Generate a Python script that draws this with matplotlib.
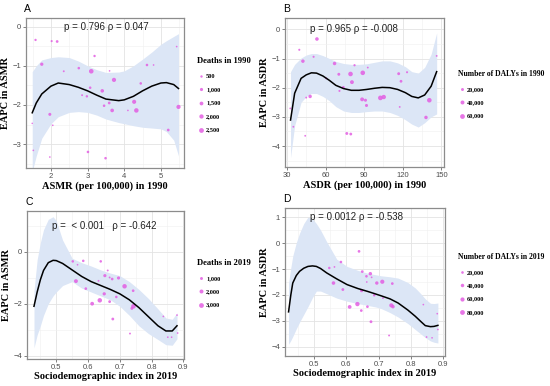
import numpy as np
import matplotlib
matplotlib.use("Agg")
from matplotlib import pyplot as plt
from matplotlib.ticker import MultipleLocator

# panel A: ASMR 1990 vs EAPC
a_x = [1.58, 2.02, 2.17, 1.75, 2.35, 2.76, 3.10, 3.19, 3.60, 3.72, 4.62, 4.80, 5.43, 4.45, 3.07, 3.40, 2.85,
       2.98, 3.59, 3.45, 3.67, 4.27, 4.33, 4.10, 5.48, 1.97, 2.05, 1.49, 1.52, 1.97, 3.01, 3.49, 5.20]
a_y = [-0.34, -0.37, -0.38, -0.96, -1.14, -1.06, -1.14, -0.75, -1.13, -1.36, -0.98, -0.98, -0.51, -1.45, -1.56,
       -1.64, -1.75, -1.78, -1.95, -2.02, -2.14, -1.92, -2.14, -2.14, -2.05, -2.24, -2.52, -2.47, -3.16, -3.33,
       -3.20, -3.36, -2.64]
a_n = [450, 350, 700, 1100, 250, 600, 2300, 500, 150, 1900, 600, 150, 150, 600, 600, 1300, 250,
       500, 700, 600, 1400, 1800, 2200, 150, 1900, 900, 150, 100, 150, 150, 600, 600, 700]
a_cx = [1.49, 1.6, 1.75, 2.0, 2.2, 2.5, 2.75, 3.0, 3.25, 3.5, 3.85, 4.0, 4.25, 4.5, 4.75, 5.0, 5.15, 5.35, 5.48]
a_cy = [-2.2, -1.95, -1.72, -1.52, -1.44, -1.48, -1.55, -1.64, -1.75, -1.85, -1.89, -1.87, -1.78, -1.64, -1.52,
        -1.44, -1.43, -1.48, -1.58]
a_hi = [-1.15, -1.0, -0.85, -0.79, -0.77, -0.79, -0.88, -1.0, -1.1, -1.17, -1.16, -1.13, -1.0, -0.83, -0.65,
        -0.45, -0.36, -0.25, -0.18]
a_lo = [-3.7, -3.3, -2.85, -2.48, -2.3, -2.19, -2.17, -2.19, -2.26, -2.36, -2.45, -2.48, -2.53, -2.57, -2.59,
        -2.61, -2.68, -2.9, -3.3]

# panel B: ASDR 1990 vs EAPC
b_x = [53.3, 39.6, 42.4, 50.7, 67.0, 82.5, 92.8, 70.3, 79.4, 88.9, 116.8, 123.3, 146.3, 60.5, 80.5, 118.6, 73.8,
       70.8, 48.0, 45.0, 88.4, 91.0, 91.8, 102.6, 105.2, 140.6, 117.6, 138.0, 32.6, 35.0, 44.2, 76.5, 79.6]
b_y = [-0.33, -0.70, -1.09, -0.94, -1.17, -1.23, -1.31, -1.54, -1.53, -1.49, -1.52, -1.47, -0.91, -1.68, -1.81,
       -1.78, -1.99, -2.11, -2.30, -2.34, -2.40, -2.43, -2.61, -2.35, -2.32, -2.43, -2.66, -3.02, -2.71, -3.34,
       -3.65, -3.57, -3.59]
b_n = [32000, 8000, 30000, 8000, 30000, 10000, 5000, 20000, 55000, 55000, 20000, 8000, 5000, 8000, 38000, 18000,
       18000, 8000, 30000, 6000, 38000, 22000, 22000, 58000, 50000, 55000, 5000, 30000, 5000, 5000, 5000, 20000,
       18000]
b_cx = [32.8, 36, 41, 45, 49, 53, 58, 63, 68, 74, 80, 86, 92, 98, 104, 110, 116, 122, 127, 132, 137, 142, 146.3]
b_cy = [-3.11, -2.19, -1.68, -1.56, -1.49, -1.50, -1.6, -1.75, -1.92, -2.03, -2.09, -2.09, -2.06, -2.02, -1.99,
        -2.0, -2.06, -2.17, -2.3, -2.35, -2.25, -1.95, -1.45]
b_hi = [-1.45, -1.2, -0.98, -0.88, -0.83, -0.83, -0.9, -1.0, -1.1, -1.17, -1.2, -1.2, -1.18, -1.13, -1.08, -1.08,
        -1.15, -1.28, -1.45, -1.5, -1.3, -0.85, -0.12]
b_lo = [-4.4, -3.3, -2.5, -2.3, -2.2, -2.2, -2.3, -2.45, -2.65, -2.8, -2.85, -2.85, -2.82, -2.8, -2.8, -2.85,
        -2.95, -3.1, -3.25, -3.35, -3.2, -3.0, -2.9]

# panel C: SDI 2019 vs EAPC in ASMR
c_x = [0.552, 0.567, 0.585, 0.640, 0.662, 0.653, 0.668, 0.676, 0.696, 0.633, 0.562, 0.715, 0.593, 0.742, 0.651,
       0.689, 0.613, 0.637, 0.668, 0.743, 0.678, 0.732, 0.837, 0.851, 0.863, 0.880, 0.882, 0.738]
c_y = [-0.37, -0.50, -0.35, -0.37, -0.72, -0.92, -0.99, -1.05, -1.01, -1.12, -1.13, -1.33, -1.42, -1.50, -1.62,
       -1.74, -2.00, -1.87, -1.92, -2.10, -2.59, -3.15, -2.49, -3.29, -3.29, -2.44, -3.13, -2.18]
c_n = [700, 200, 700, 700, 300, 1200, 300, 800, 1200, 300, 1900, 2600, 800, 800, 1300,
       700, 1800, 2600, 900, 2800, 900, 300, 200, 200, 200, 200, 200, 1000]
c_cx = [0.43, 0.44, 0.45, 0.46, 0.475, 0.49, 0.50, 0.52, 0.55, 0.58, 0.61, 0.64, 0.67, 0.70, 0.73, 0.76, 0.79,
        0.82, 0.845, 0.865, 0.88]
c_cy = [-2.1, -1.55, -1.08, -0.72, -0.42, -0.33, -0.34, -0.45, -0.7, -0.95, -1.15, -1.3, -1.45, -1.62, -1.85,
        -2.15, -2.5, -2.85, -3.05, -3.05, -2.85]
c_hi = [-1.5, -0.3, 0.35, 0.85, 1.25, 1.35, 1.2, 0.45, -0.25, -0.42, -0.55, -0.7, -0.82, -0.92, -1.15, -1.45,
        -1.8, -2.2, -2.55, -2.6, -2.35]
c_lo = [-3.7, -3.2, -2.85, -2.45, -2.0, -1.7, -1.55, -1.3, -1.15, -1.4, -1.55, -1.7, -1.85, -2.1, -2.45, -2.85,
        -3.15, -3.38, -3.58, -3.6, -3.35]

# panel D: SDI 2019 vs EAPC in ASDR
d_x = [0.639, 0.583, 0.547, 0.563, 0.649, 0.674, 0.662, 0.678, 0.560, 0.694, 0.711, 0.742, 0.663, 0.589, 0.647,
       0.686, 0.713, 0.610, 0.634, 0.665, 0.646, 0.676, 0.739, 0.744, 0.732, 0.838, 0.848, 0.865, 0.881, 0.883]
d_y = [-0.32, -0.73, -0.96, -0.92, -1.10, -1.18, -1.28, -1.32, -1.54, -1.54, -1.49, -1.56, -1.50, -1.79, -1.83,
       -2.01, -2.12, -2.46, -2.35, -2.45, -2.60, -3.03, -2.40, -2.45, -3.56, -2.37, -3.62, -3.65, -2.72, -3.33]
d_n = [22000, 20000, 18000, 6000, 22000, 40000, 20000, 6000, 42000, 38000, 60000, 22000, 5000, 25000, 35000,
       18000, 6000, 48000, 65000, 22000, 22000, 25000, 60000, 40000, 8000, 5000, 6000, 5000, 5000, 5000]
d_cx = [0.421, 0.428, 0.434, 0.445, 0.455, 0.468, 0.481, 0.495, 0.507, 0.52, 0.539, 0.57, 0.602, 0.635, 0.665,
        0.69, 0.707, 0.735, 0.76, 0.79, 0.813, 0.83, 0.844, 0.86, 0.871, 0.883]
d_cy = [-2.65, -2.0, -1.54, -1.25, -1.09, -0.97, -0.9, -0.88, -0.9, -0.98, -1.15, -1.38, -1.6, -1.75, -1.86,
        -1.96, -2.03, -2.15, -2.31, -2.58, -2.82, -3.02, -3.18, -3.22, -3.21, -3.17]
d_hi = [-1.54, -0.95, -0.5, 0.02, 0.38, 0.75, 1.0, 0.93, 0.75, 0.5, 0.05, -0.62, -0.9, -1.05, -1.16, -1.22,
        -1.26, -1.3, -1.35, -1.52, -1.73, -1.95, -2.15, -2.32, -2.33, -2.31]
d_lo = [-3.9, -3.75, -3.6, -3.3, -3.05, -2.75, -2.45, -2.1, -1.85, -1.85, -1.95, -2.12, -2.24, -2.33, -2.4, -2.46,
        -2.52, -2.68, -2.85, -3.1, -3.33, -3.5, -3.64, -3.77, -3.82, -3.85]

a_leg = [500, 1000, 1500, 2000, 2500]
b_leg = [20000, 40000, 60000]
c_leg = [1000, 2000, 3000]
d_leg = [20000, 40000, 60000, 80000]

PT = "#e35ee2"
BAND = "#dce6f6"
SERIF = "Liberation Serif"
SANS = "Liberation Sans"
W, H = 550, 386


def size(v, vmax):
    return 0.8 + 11.0 * np.asarray(v, dtype=float) / vmax


def panel(rect, x, y, n, cx, cy, lo, hi, xlim, ylim, xmaj, ymaj, xlab, ylab, note, note_xy, leg, leg_title,
          leg_pos, title_size, letter):
    l, t, r, b = rect
    ax = fig.add_axes([l / W, 1 - b / H, (r - l) / W, (b - t) / H])
    ax.set_xlim(*xlim)
    ax.set_ylim(*ylim)
    ax.xaxis.set_major_locator(MultipleLocator(xmaj))
    ax.xaxis.set_minor_locator(MultipleLocator(xmaj / 2))
    ax.yaxis.set_major_locator(MultipleLocator(ymaj))
    ax.yaxis.set_minor_locator(MultipleLocator(ymaj / 2))
    ax.grid(which="major", color="#e3e3e3", lw=0.6)
    ax.grid(which="minor", color="#f0f0f0", lw=0.4)
    ax.set_axisbelow(True)
    for s in ax.spines.values():
        s.set_color("#8c8c8c")
        s.set_linewidth(0.9)
    ax.tick_params(which="major", length=2, width=0.5, color="#4d4d4d", labelsize=5.5, labelcolor="#4d4d4d",
                   pad=1.5)
    ax.tick_params(which="minor", length=0)
    for lab in ax.get_xticklabels() + ax.get_yticklabels():
        lab.set_fontfamily(SANS)
    vmax = max(leg)
    ax.fill_between(cx, lo, hi, color=BAND, lw=0, zorder=1)
    ax.scatter(x, y, s=size(n, vmax), color=PT, alpha=0.85, lw=0, zorder=2)
    ax.plot(cx, cy, color="black", lw=1.1, zorder=3)
    ax.text(note_xy[0], note_xy[1], note, ha="center", va="center", fontsize=7, family=SANS, color="#222222")
    ax.set_xlabel(xlab, family=SERIF, fontweight="bold", fontsize=7.5, labelpad=1)
    ax.set_ylabel(ylab, family=SERIF, fontweight="bold", fontsize=7.5, labelpad=2)
    handles = [ax.scatter([], [], s=size(v, vmax), color=PT, alpha=0.85, lw=0) for v in leg]
    fig.legend(handles, ["{:,}".format(v) for v in leg], title=leg_title, loc="upper left",
               bbox_to_anchor=(leg_pos[0] / W, 1 - leg_pos[1] / H), frameon=False, borderpad=0,
               labelspacing=1.25, handletextpad=0.2, handlelength=1.2, alignment="left",
               prop={"family": SERIF, "weight": "bold", "size": 4.6},
               title_fontproperties={"family": SERIF, "weight": "bold", "size": title_size})
    fig.text((l - 2) / W, 1 - (t - 9) / H, letter, fontsize=7.5, family=SANS, va="center", ha="left")
    return ax


fig = plt.figure(figsize=(5.5, 3.86), dpi=100)

panel((26, 18, 184, 168), a_x, a_y, a_n, a_cx, a_cy, a_lo, a_hi, (1.32, 5.63), (-3.61, 0.22), 1, 1,
      "ASMR (per 100,000) in 1990", "EAPC in ASMR", "p = 0.796 \u03c1 = 0.047", (3.5, 0.0), a_leg,
      "Deaths in 1990", (194, 54), 6.2, "A")
panel((285, 18, 444, 167), b_x, b_y, b_n, b_cx, b_cy, b_lo, b_hi, (28.5, 152), (-4.72, 0.39), 30, 1,
      "ASDR (per 100,000) in 1990", "EAPC in ASDR", "p = 0.965 \u03c1 = -0.008", (82, 0.0), b_leg,
      "Number of DALYs in 1990", (455, 67), 5.5, "B")
panel((27, 211, 184, 359), c_x, c_y, c_n, c_cx, c_cy, c_lo, c_hi, (0.408, 0.902), (-4.13, 1.57), 0.1, 2,
      "Sociodemographic index in 2019", "EAPC in ASMR", "p =  < 0.001   \u03c1 = -0.642", (0.65, 1.0), c_leg,
      "Deaths in 2019", (194, 256), 6.2, "C")
panel((285, 208, 445, 356), d_x, d_y, d_n, d_cx, d_cy, d_lo, d_hi, (0.41, 0.905), (-4.35, 1.35), 0.1, 1,
      "Sociodemographic index in 2019", "EAPC in ASDR", "p = 0.0012 \u03c1 = -0.538", (0.63, 1.0), d_leg,
      "Number of DALYs in 2019", (455, 250), 5.5, "D")

fig.savefig("out.png", dpi=100)
